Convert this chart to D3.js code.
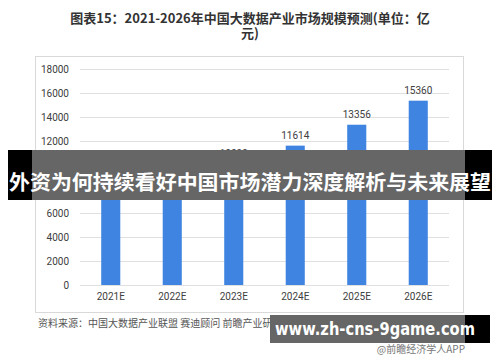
<!DOCTYPE html>
<html>
<head>
<meta charset="utf-8">
<script src="https://cdn.jsdelivr.net/npm/d3@7"></script>
<style>
  body { margin: 0; background: #fff; }
  text { font-family: "Noto Sans CJK SC", "Noto Sans", sans-serif; }
</style>
</head>
<body>
<script>
const width = 500;
const height = 362;

const years = ['2021E', '2022E', '2023E', '2024E', '2025E', '2026E'];
const values = [7486, 8774, 10099, 11614, 13356, 15360];
const yTicks = [0, 2000, 4000, 6000, 8000, 10000, 12000, 14000, 16000, 18000];

const svg = d3.select("body")
    .append("svg")
    .attr("width", width)
    .attr("height", height);

// title
svg.append("text")
    .attr("x", 250).attr("y", 23)
    .attr("text-anchor", "middle")
    .attr("font-size", 13).attr("font-weight", "bold")
    .attr("fill", "#333")
    .text("图表15：2021-2026年中国大数据产业市场规模预测(单位：亿");
svg.append("text")
    .attr("x", 250).attr("y", 38)
    .attr("text-anchor", "middle")
    .attr("font-size", 13).attr("font-weight", "bold")
    .attr("fill", "#333")
    .text("元)");

// chart frame
svg.append("rect")
    .attr("x", 35.5).attr("y", 56.5)
    .attr("width", 428).attr("height", 256)
    .attr("fill", "none")
    .attr("stroke", "#d9d9d9");

let xScale = d3.scaleBand()
    .domain(years)
    .range([80, 449])
    .paddingInner(0.69)
    .paddingOuter(0.345);

let yScale = d3.scaleLinear()
    .domain([0, 18000])
    .range([285, 69]);

// gridlines
svg.append("g")
    .selectAll("line")
    .data(yTicks)
    .enter()
    .append("line")
    .attr("x1", 80).attr("x2", 449)
    .attr("y1", d => Math.round(yScale(d)) + 0.5)
    .attr("y2", d => Math.round(yScale(d)) + 0.5)
    .attr("stroke", "#e0e0e0");

let yAxis = d3.axisLeft(yScale)
    .tickValues(yTicks)
    .tickFormat(d3.format("d"))
    .tickSize(0)
    .tickPadding(0);

let yG = svg.append("g")
    .attr("transform", "translate(69,0)")
    .call(yAxis);
yG.select(".domain").remove();
yG.selectAll("text")
    .attr("font-size", 10).attr("fill", "#404040")
    .style("font-family", "Roboto, 'Noto Sans', sans-serif");

let xAxis = d3.axisBottom(xScale).tickSize(0).tickPadding(0);
let xG = svg.append("g")
    .attr("transform", "translate(0,293)")
    .call(xAxis);
xG.select(".domain").remove();
xG.selectAll("text")
    .attr("font-size", 10).attr("fill", "#404040")
    .style("font-family", "Roboto, 'Noto Sans', sans-serif");

// bars
svg.selectAll(".bar")
    .data(values)
    .enter()
    .append("rect")
    .attr("class", "bar")
    .attr("x", (d, i) => xScale(years[i]))
    .attr("y", d => yScale(d))
    .attr("width", xScale.bandwidth())
    .attr("height", d => yScale(0) - yScale(d))
    .attr("fill", "#3f84e1");

svg.selectAll(".label")
    .data(values)
    .enter()
    .append("text")
    .attr("class", "label")
    .attr("x", (d, i) => xScale(years[i]) + xScale.bandwidth() / 2)
    .attr("y", d => yScale(d) - 7)
    .attr("text-anchor", "middle")
    .attr("font-size", 10).attr("fill", "#404040")
    .style("font-family", "Roboto, 'Noto Sans', sans-serif")
    .text(d => d);

// source line
svg.append("text")
    .attr("x", 38).attr("y", 327)
    .attr("font-size", 10).attr("fill", "#555")
    .text("资料来源：中国大数据产业联盟 赛迪顾问 前瞻产业研究院整理");
svg.append("text")
    .attr("x", 465).attr("y", 353)
    .attr("text-anchor", "end")
    .attr("font-size", 10).attr("fill", "#777")
    .text("@前瞻经济学人APP");

// headline banner
svg.append("rect")
    .attr("x", 8).attr("y", 150).attr("width", 484).attr("height", 50)
    .attr("fill", "#000");
svg.append("rect")
    .attr("x", 32).attr("y", 150).attr("width", 433).attr("height", 50)
    .attr("fill", "#fff");
svg.append("rect")
    .attr("x", 32).attr("y", 150).attr("width", 433).attr("height", 50)
    .attr("fill", "rgba(0,0,0,0.6)");
svg.append("text")
    .attr("x", 250).attr("y", 190)
    .attr("text-anchor", "middle")
    .attr("font-size", 20).attr("font-weight", "bold")
    .attr("textLength", 482).attr("lengthAdjust", "spacingAndGlyphs")
    .attr("fill", "#fff")
    .text("外资为何持续看好中国市场潜力深度解析与未来展望");

// site banner
svg.append("rect")
    .attr("x", 270).attr("y", 315).attr("width", 220).attr("height", 28)
    .attr("fill", "#000");
svg.append("rect")
    .attr("x", 270).attr("y", 315).attr("width", 195).attr("height", 28)
    .attr("fill", "#666");
svg.append("text")
    .attr("x", 375).attr("y", 335)
    .attr("text-anchor", "middle")
    .attr("font-size", 17).attr("font-weight", "bold")
    .attr("textLength", 200).attr("lengthAdjust", "spacingAndGlyphs")
    .attr("fill", "#fff")
    .style("font-family", "'DejaVu Sans', sans-serif")
    .text("www.zh-cns-9game.com");
</script>
</body>
</html>
